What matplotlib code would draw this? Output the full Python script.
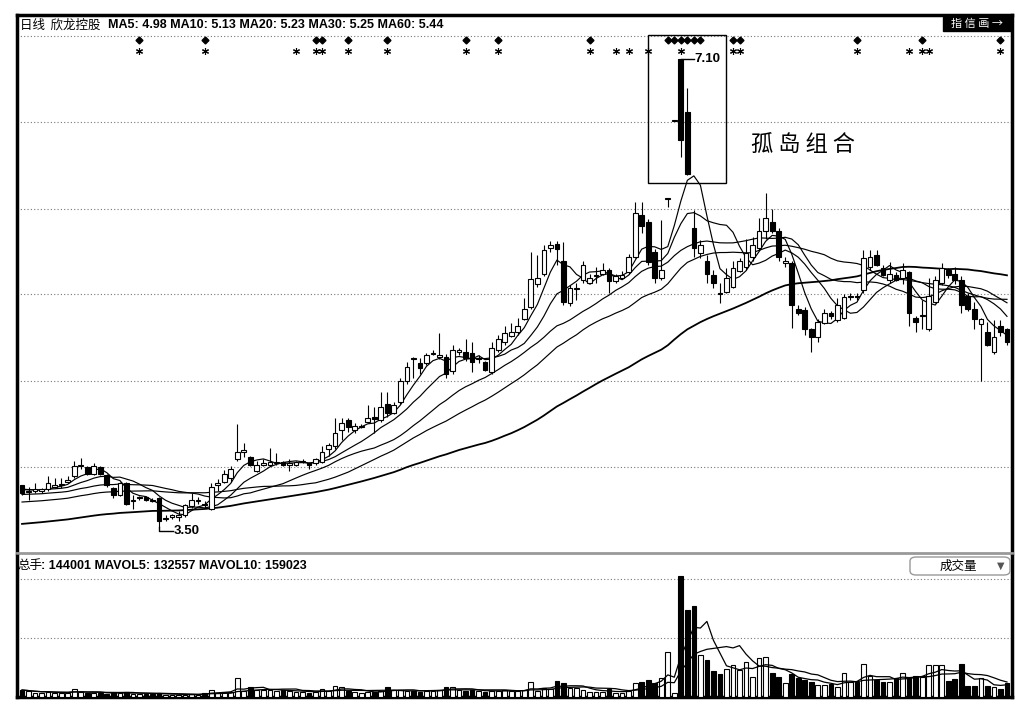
import numpy as np
import pandas as pd
import matplotlib
matplotlib.use('Agg')
import matplotlib.pyplot as plt
from matplotlib.patches import Rectangle, FancyBboxPatch
from matplotlib.transforms import blended_transform_factory

plt.rcParams['font.family'] = ['Liberation Sans', 'Noto Sans CJK SC', 'DejaVu Sans']

# candles do dia (abertura, maxima, minima, fechamento)
abertura = [
    3.82, 3.77, 3.78, 3.78, 3.79, 3.81, 3.82, 3.85, 3.89, 3.97,
    3.96, 3.91, 3.96, 3.90, 3.80, 3.75, 3.84, 3.70, 3.72, 3.73,
    3.71, 3.72, 3.56, 3.58, 3.58, 3.59, 3.66, 3.70, 3.68, 3.64,
    3.82, 3.85, 3.88, 4.02, 4.08, 4.04, 3.93, 3.98, 3.98, 3.99,
    4.00, 3.98, 3.98, 4.00, 3.99, 3.99, 4.00, 4.10, 4.12, 4.25,
    4.32, 4.25, 4.27, 4.31, 4.35, 4.32, 4.45, 4.38, 4.46, 4.62,
    4.80, 4.76, 4.76, 4.83, 4.81, 4.81, 4.70, 4.85, 4.85, 4.84,
    4.79, 4.77, 4.69, 4.86, 4.92, 4.97, 5.00, 5.10, 5.19, 5.37,
    5.45, 5.65, 5.68, 5.55, 5.22, 5.33, 5.40, 5.38, 5.43, 5.45,
    5.48, 5.39, 5.42, 5.46, 5.58, 5.90, 5.85, 5.62, 5.42, 6.03,
    6.63, 7.10, 6.69, 5.80, 5.61, 5.55, 5.44, 5.30, 5.31, 5.35,
    5.47, 5.50, 5.58, 5.65, 5.78, 5.85, 5.78, 5.53, 5.53, 5.18,
    5.17, 5.02, 4.96, 5.07, 5.15, 5.09, 5.11, 5.27, 5.28, 5.32,
    5.50, 5.59, 5.49, 5.40, 5.44, 5.42, 5.46, 5.11, 5.12, 5.02,
    5.23, 5.38, 5.48, 5.45, 5.40, 5.28, 5.18, 5.06, 5.00, 4.85,
    5.05, 5.02]
maxima = [
    3.82, 3.81, 3.84, 3.80, 3.89, 3.88, 3.88, 3.89, 4.01, 4.03,
    3.97, 3.99, 3.97, 3.91, 3.81, 3.85, 3.85, 3.75, 3.74, 3.74,
    3.72, 3.73, 3.59, 3.60, 3.62, 3.68, 3.76, 3.73, 3.70, 3.84,
    3.87, 3.94, 3.97, 4.29, 4.15, 4.05, 4.01, 4.02, 4.11, 4.07,
    4.01, 4.02, 4.01, 4.02, 3.99, 4.03, 4.12, 4.15, 4.34, 4.34,
    4.34, 4.30, 4.29, 4.44, 4.42, 4.54, 4.54, 4.46, 4.65, 4.77,
    4.81, 4.80, 4.84, 4.86, 4.99, 4.83, 4.90, 4.88, 4.95, 4.92,
    4.82, 4.78, 4.92, 4.98, 5.05, 5.07, 5.11, 5.26, 5.62, 5.59,
    5.67, 5.70, 5.70, 5.69, 5.36, 5.38, 5.55, 5.45, 5.50, 5.53,
    5.49, 5.45, 5.47, 5.60, 6.00, 6.00, 5.87, 5.64, 5.86, 6.03,
    6.63, 7.10, 6.88, 5.94, 5.71, 5.59, 5.48, 5.38, 5.49, 5.55,
    5.57, 5.72, 5.73, 5.88, 6.07, 5.95, 5.80, 5.58, 5.55, 5.21,
    5.19, 5.03, 5.10, 5.18, 5.16, 5.26, 5.29, 5.30, 5.30, 5.63,
    5.63, 5.63, 5.52, 5.54, 5.46, 5.53, 5.47, 5.12, 5.25, 5.42,
    5.43, 5.53, 5.49, 5.50, 5.43, 5.30, 5.23, 5.11, 5.08, 5.09,
    5.09, 5.03]
minima = [
    3.75, 3.71, 3.76, 3.76, 3.78, 3.80, 3.80, 3.84, 3.88, 3.95,
    3.90, 3.90, 3.90, 3.81, 3.72, 3.74, 3.67, 3.64, 3.71, 3.70,
    3.69, 3.50, 3.55, 3.56, 3.55, 3.58, 3.65, 3.68, 3.65, 3.63,
    3.78, 3.84, 3.85, 4.01, 4.04, 3.97, 3.92, 3.97, 3.97, 3.98,
    3.97, 3.93, 3.97, 3.99, 3.95, 3.98, 3.99, 4.05, 4.10, 4.17,
    4.23, 4.22, 4.26, 4.30, 4.22, 4.31, 4.35, 4.37, 4.45, 4.60,
    4.65, 4.68, 4.75, 4.82, 4.79, 4.65, 4.68, 4.82, 4.78, 4.69,
    4.76, 4.70, 4.68, 4.85, 4.90, 4.96, 4.98, 5.09, 5.18, 5.35,
    5.43, 5.62, 5.52, 5.21, 5.20, 5.25, 5.38, 5.37, 5.38, 5.44,
    5.30, 5.38, 5.41, 5.45, 5.57, 5.76, 5.52, 5.38, 5.40, 5.96,
    6.63, 6.35, 6.21, 5.58, 5.57, 5.38, 5.34, 5.22, 5.30, 5.34,
    5.46, 5.48, 5.55, 5.63, 5.72, 5.76, 5.55, 5.50, 5.03, 5.13,
    4.98, 4.85, 4.92, 5.06, 5.10, 5.08, 5.10, 5.25, 5.25, 5.30,
    5.48, 5.51, 5.43, 5.38, 5.39, 5.37, 5.05, 5.00, 5.02, 5.01,
    5.22, 5.36, 5.42, 5.37, 5.15, 5.16, 5.02, 4.62, 4.89, 4.83,
    4.97, 4.90]
fechamento = [
    3.76, 3.78, 3.79, 3.79, 3.84, 3.82, 3.83, 3.86, 3.97, 3.98,
    3.91, 3.97, 3.91, 3.82, 3.75, 3.84, 3.68, 3.71, 3.73, 3.71,
    3.70, 3.55, 3.57, 3.59, 3.59, 3.67, 3.71, 3.71, 3.67, 3.81,
    3.84, 3.91, 3.95, 4.08, 4.09, 3.98, 3.98, 3.99, 4.00, 4.00,
    3.98, 3.99, 4.00, 4.01, 3.98, 4.02, 4.08, 4.13, 4.22, 4.30,
    4.27, 4.28, 4.28, 4.34, 4.33, 4.42, 4.38, 4.44, 4.62, 4.73,
    4.79, 4.72, 4.82, 4.84, 4.82, 4.68, 4.86, 4.86, 4.80, 4.77,
    4.80, 4.71, 4.88, 4.95, 4.99, 5.00, 5.05, 5.18, 5.41, 5.42,
    5.63, 5.67, 5.64, 5.23, 5.34, 5.34, 5.52, 5.42, 5.44, 5.48,
    5.39, 5.43, 5.44, 5.58, 5.92, 5.82, 5.54, 5.42, 5.48, 6.03,
    6.63, 6.48, 6.22, 5.65, 5.67, 5.45, 5.38, 5.29, 5.42, 5.49,
    5.55, 5.61, 5.67, 5.78, 5.88, 5.78, 5.58, 5.55, 5.21, 5.15,
    5.02, 4.96, 5.08, 5.15, 5.12, 5.21, 5.27, 5.28, 5.27, 5.57,
    5.58, 5.52, 5.44, 5.45, 5.40, 5.48, 5.15, 5.08, 5.13, 5.28,
    5.40, 5.49, 5.44, 5.40, 5.21, 5.18, 5.10, 5.10, 4.90, 4.96,
    5.00, 4.92]

# volume (总手)
volume = [
    71000, 60000, 45000, 40000, 50000, 45000, 40000, 45000, 78000, 55000,
    40000, 45000, 40000, 35000, 45000, 40000, 50000, 35000, 30000, 35000,
    30000, 45000, 25000, 20000, 20000, 25000, 30000, 25000, 45000, 70000,
    45000, 50000, 55000, 190000, 60000, 99000, 75000, 70000, 70000, 65000,
    70000, 60000, 55000, 50000, 45000, 55000, 80000, 60000, 110000, 105000,
    60000, 50000, 45000, 50000, 55000, 60000, 99000, 70000, 70000, 65000,
    60000, 55000, 65000, 60000, 75000, 105000, 105000, 70000, 65000, 70000,
    60000, 55000, 65000, 60000, 70000, 60000, 65000, 71000, 150000, 65000,
    95000, 80000, 163000, 140000, 95000, 95000, 70000, 54000, 54000, 54000,
    78000, 44000, 44000, 65000, 140000, 156000, 173000, 146000, 190000, 462000,
    40000, 1234000, 887000, 928000, 428000, 377000, 269000, 235000, 282000, 326000,
    275000, 360000, 207000, 394000, 411000, 241000, 207000, 139000, 231000, 190000,
    173000, 150000, 122000, 122000, 133000, 105000, 241000, 156000, 156000, 337000,
    214000, 173000, 156000, 156000, 190000, 248000, 190000, 214000, 207000, 326000,
    326000, 326000, 167000, 180000, 337000, 112000, 112000, 190000, 112000, 99000,
    78000, 144001]

# nivel das medias no primeiro candle visivel
ma_inicio = {5: 3.80, 10: 3.79, 20: 3.75, 30: 3.69, 60: 3.52}

# sinais no topo do grafico (indice do candle)
sinal_losango = [18, 28, 45, 46, 50, 56, 68, 73, 87, 99, 100, 101, 102, 103, 104,
                 109, 110, 128, 138, 150]
sinal_estrela = [18, 28, 42, 45, 46, 50, 56, 68, 73, 87, 91, 93, 96, 101, 109, 110,
                 128, 136, 138, 139, 150]

linhas_grade = [3.96, 4.62, 5.29, 5.95, 6.62, 7.28]
linhas_grade_vol = [600000, 1200000]


def media_movel(valores, n, semente):
    s = pd.Series(valores, dtype=float)
    completo = s.rolling(n).mean()
    # antes de ter n dias, completa a janela com o nivel inicial
    parcial = (s.cumsum() + semente * (n - 1 - s.index.values)) / n
    return completo.fillna(parcial)


W, H = 1030, 710
fig = plt.figure(figsize=(W / 100, H / 100), dpi=100)
fig.patch.set_facecolor('white')
ax = fig.add_axes([17 / W, 1 - 553 / H, (1012 - 17) / W, (553 - 15) / H])
ax2 = fig.add_axes([17 / W, 1 - 697 / H, (1012 - 17) / W, (697 - 556) / H])

o = np.array(abertura)
h = np.array(maxima)
l = np.array(minima)
c = np.array(fechamento)
v = np.array(volume)
x = np.arange(len(c))
sobe = c >= o
cor = np.where(sobe, 'white', 'black')

# medias moveis
for n in [5, 10, 20, 30, 60]:
    ax.plot(x, media_movel(c, n, ma_inicio[n]), color='black',
            lw=1.3 if n == 60 else 0.85, zorder=2)

# candles
ax.vlines(x, l, h, color='black', lw=0.8, zorder=3)
corpo = c - o
base = o.copy()
doji = np.abs(corpo) < 0.008
corpo = np.where(doji, 0.008, corpo)
base = np.where(doji, o - 0.004, base)
ax.bar(x, corpo, bottom=base, width=0.72, color=cor, edgecolor='black',
       linewidth=0.8, zorder=4)

ax.set_xlim(-0.77, len(c) - 0.23)
ax.set_ylim(3.30, 7.44)
ax.set_yticks(linhas_grade)
ax.yaxis.grid(True, ls=(0, (1, 2)), color='#777777', lw=0.8)
ax.set_axisbelow(True)
ax.tick_params(left=False, labelleft=False, bottom=False, labelbottom=False)
for lado in ['left', 'right', 'top']:
    ax.spines[lado].set_linewidth(2.5)
    ax.spines[lado].set_color('black')
ax.spines['bottom'].set_linewidth(2)
ax.spines['bottom'].set_color('#999999')

# sinais
trans = blended_transform_factory(ax.transData, ax.transAxes)
ax.plot(sinal_losango, [0.953] * len(sinal_losango), 'D', ms=3.5, color='black',
        transform=trans, clip_on=False, zorder=5)
ax.plot(sinal_estrela, [0.934] * len(sinal_estrela), marker=(6, 2, 0), ls='none',
        ms=5, mew=0.8, color='black', transform=trans, clip_on=False, zorder=5)

# caixa do 孤岛组合
ax.add_patch(Rectangle((95.9, 6.15), 12.1, 1.135, fill=False, ec='black', lw=1, zorder=5))
ax.text(119.8, 6.44, '孤 岛 组 合', fontsize=16, ha='center', va='center',
        family=['Noto Sans CJK SC', 'DejaVu Sans'])

# maxima e minima
i_max = int(np.argmax(h))
i_min = int(np.argmin(l))
ax.plot([i_max, i_max + 2.0], [h[i_max], h[i_max]], color='black', lw=1, zorder=5)
ax.text(i_max + 2.1, h[i_max], f'{h[i_max]:.2f}', fontsize=9.5, fontweight='bold',
        va='center', ha='left')
ax.plot([i_min, i_min, i_min + 2.1], [l[i_min], l[i_min] - 0.03, l[i_min] - 0.03],
        color='black', lw=1, zorder=5)
ax.text(i_min + 2.2, l[i_min] - 0.03, f'{l[i_min]:.2f}', fontsize=9.5,
        fontweight='bold', va='center', ha='left')

# volume
ax2.bar(x, v, width=0.72, color=cor, edgecolor='black', linewidth=0.8, zorder=3)
vs = pd.Series(v, dtype=float)
ax2.plot(x, vs.rolling(5, min_periods=1).mean(), color='black', lw=0.9, zorder=4)
ax2.plot(x, vs.rolling(10, min_periods=1).mean(), color='black', lw=0.9, zorder=4)
ax2.set_xlim(ax.get_xlim())
ax2.set_ylim(0, 1438000)
ax2.set_yticks(linhas_grade_vol)
ax2.yaxis.grid(True, ls=(0, (1, 2)), color='#777777', lw=0.8)
ax2.set_axisbelow(True)
ax2.tick_params(left=False, labelleft=False, bottom=False, labelbottom=False)
for lado in ['left', 'right', 'bottom']:
    ax2.spines[lado].set_linewidth(2.5)
    ax2.spines[lado].set_color('black')
ax2.spines['top'].set_visible(False)

# textos do topo
cjk = ['Noto Sans CJK SC', 'DejaVu Sans']
fig.text(20 / W, 1 - 25 / H, '日线  欣龙控股', fontsize=9, va='center', family=cjk)
fig.text(108 / W, 1 - 25 / H, 'MA5: 4.98 MA10: 5.13 MA20: 5.23 MA30: 5.25 MA60: 5.44',
         fontsize=9, fontweight='bold', va='center')
fig.patches.append(Rectangle((943 / W, 1 - 31 / H), 68 / W, 14 / H,
                             transform=fig.transFigure, color='black', zorder=6))
fig.text(977 / W, 1 - 24 / H, '指 信 画 →', fontsize=8, color='white', ha='center',
         va='center', family=cjk, zorder=7)

fig.text(17 / W, 1 - 566 / H, '总手', fontsize=9, va='center', family=cjk)
fig.text(41 / W, 1 - 566 / H, ': 144001 MAVOL5: 132557 MAVOL10: 159023',
         fontsize=9, fontweight='bold', va='center')
fig.patches.append(FancyBboxPatch((910 / W, 1 - 575 / H), 100 / W, 18 / H,
                                  boxstyle='round,pad=0,rounding_size=0.006',
                                  transform=fig.transFigure, fc='white',
                                  ec='#999999', lw=1, zorder=6))
fig.text(958 / W, 1 - 566 / H, '成交量', fontsize=9, ha='center', va='center',
         family=cjk, zorder=7)
fig.text(1001 / W, 1 - 566 / H, '▼', fontsize=7, ha='center', va='center',
         color='#555555', family=['DejaVu Sans'], zorder=7)

fig.savefig('out.png', dpi=100, facecolor='white')
